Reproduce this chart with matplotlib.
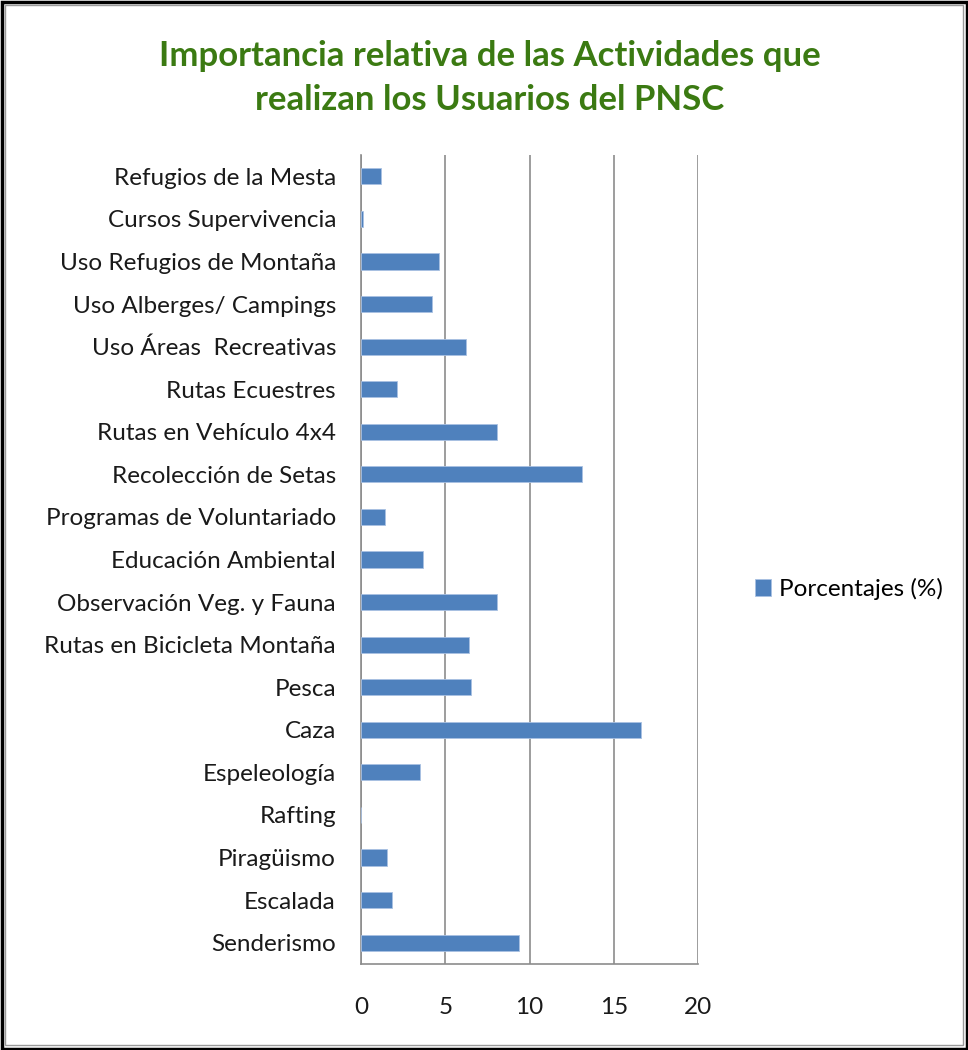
import matplotlib.pyplot as plt
from matplotlib.patches import Rectangle

categories = [
    "Senderismo", "Escalada", "Piragüismo", "Rafting", "Espeleología", "Caza",
    "Pesca", "Rutas en Bicicleta Montaña", "Observación Veg. y Fauna",
    "Educación Ambiental", "Programas de Voluntariado", "Recolección de Setas",
    "Rutas en Vehículo 4x4", "Rutas Ecuestres", "Uso Áreas  Recreativas",
    "Uso Alberges/ Campings", "Uso Refugios de Montaña", "Cursos Supervivencia",
    "Refugios de la Mesta",
]
values = [9.36, 1.85, 1.54, 0.0, 3.53, 16.62, 6.54, 6.38, 8.07, 3.66, 1.4,
          13.13, 8.07, 2.15, 6.25, 4.2, 4.65, 0.12, 1.16]
xticks = [0, 5, 10, 15, 20]

plt.rcParams['font.family'] = ['Lato', 'DejaVu Sans']

W, H = 968, 1050
fig = plt.figure(figsize=(W / 100, H / 100), dpi=100)
ax = fig.add_axes([361 / W, 1 - 964 / H, (698 - 361) / W, (964 - 155) / H])

bar_color = "#4F81BD"
ax.barh(range(len(categories)), values, height=0.38, color=bar_color,
        edgecolor="#A9C1E2", linewidth=0.6, zorder=3,
        label="Porcentajes (%)")

ax.set_xlim(0, 20)
ax.set_ylim(-0.5, len(categories) - 0.5)
ax.set_xticks(xticks)
ax.set_xticklabels([str(t) for t in xticks])
ax.set_yticks(range(len(categories)))
ax.set_yticklabels(categories)
ax.tick_params(axis="both", length=0, labelsize=17.5, colors="#1a1a1a")
ax.tick_params(axis="x", pad=24)
ax.tick_params(axis="y", pad=18)

grid_color = "#8C8C8C"
ax.grid(axis="x", color=grid_color, linewidth=1.2, zorder=0)
for side in ["left", "bottom", "right", "top"]:
    ax.spines[side].set_color(grid_color)
    ax.spines[side].set_linewidth(1.2)
ax.spines["top"].set_visible(False)
ax.spines["right"].set_visible(False)

title_color = "#3B7A12"
fig.text(490 / W, 1 - 56 / H, "Importancia relativa de las Actividades que",
         ha="center", va="center", fontsize=25, fontweight="bold", color=title_color)
fig.text(490 / W, 1 - 100 / H, "realizan los Usuarios del PNSC",
         ha="center", va="center", fontsize=25, fontweight="bold", color=title_color)

fig.legend(loc="center left", bbox_to_anchor=(745 / W, 1 - 589 / H),
           frameon=False, fontsize=17.5, handlelength=0.65, handleheight=0.65,
           handletextpad=0.35, borderaxespad=0)

# frame around the picture
fig.add_artist(Rectangle((1.5 / W, 1.5 / H), (W - 3) / W, (H - 3) / H,
                         transform=fig.transFigure, fill=False,
                         edgecolor="black", linewidth=2.5))
fig.add_artist(Rectangle((5 / W, 5 / H), (W - 10) / W, (H - 10) / H,
                         transform=fig.transFigure, fill=False,
                         edgecolor="#9A9A9A", linewidth=1))

fig.savefig("out.png", dpi=100)
